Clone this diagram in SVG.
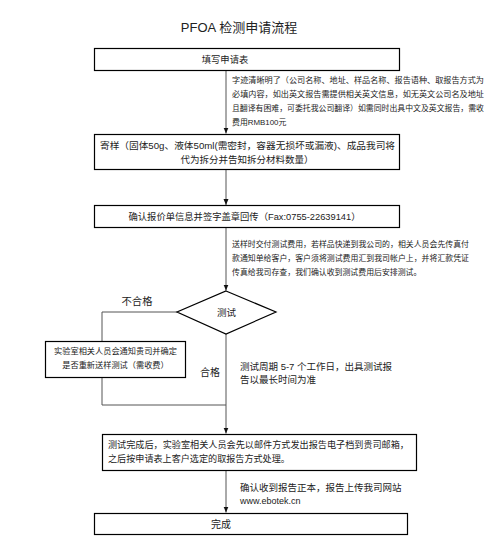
<svg xmlns="http://www.w3.org/2000/svg" width="498" height="553" viewBox="0 0 498 553">
<style>
text{font-family:"Liberation Sans","Noto Sans CJK SC",sans-serif;fill:#222;dominant-baseline:central}
.box{fill:#fff;stroke:#000;stroke-width:1.2}
.c{text-anchor:middle}
.ln{fill:none;stroke:#555;stroke-width:1}
.an{font-size:7.9px}
.md{font-size:9.3px}
</style>
<defs>
<marker id="ar" viewBox="0 0 6 6" refX="6" refY="3" markerWidth="6" markerHeight="6" orient="auto" markerUnits="userSpaceOnUse">
<path d="M0,0.5 L6,3 L0,5.5 Z" fill="#111"/>
</marker>
</defs>
<rect width="498" height="553" fill="#fff"/>
<text x="239" y="27" class="c" style="font-size:13px">PFOA 检测申请流程</text>

<g id="connectors">
<line class="ln" x1="226" y1="70.5" x2="226" y2="133.5" marker-end="url(#ar)"/>
<line class="ln" x1="226" y1="169.5" x2="226" y2="205" marker-end="url(#ar)"/>
<line class="ln" x1="226" y1="227.5" x2="226" y2="290.5" marker-end="url(#ar)"/>
<polyline class="ln" points="177,312 102,312 102,341"/>
<polyline class="ln" points="102,377 102,405 226,405"/>
<line class="ln" x1="226" y1="334" x2="226" y2="433.5" marker-end="url(#ar)"/>
<line class="ln" x1="226" y1="470.5" x2="226" y2="512.5" marker-end="url(#ar)"/>
<text x="137" y="301" class="c" style="font-size:10.3px">不合格</text>
<text x="210" y="372" class="c" style="font-size:10px">合格</text>
<g class="an">
<text x="232" y="80" textLength="252" lengthAdjust="spacingAndGlyphs">字迹清晰明了（公司名称、地址、样品名称、报告语种、取报告方式为</text>
<text x="232" y="94" textLength="252" lengthAdjust="spacingAndGlyphs">必填内容，如出英文报告需提供相关英文信息，如无英文公司名及地址</text>
<text x="232" y="108" textLength="252" lengthAdjust="spacingAndGlyphs">且翻译有困难，可委托我公司翻译）如需同时出具中文及英文报告，需收</text>
<text x="232" y="122">费用RMB100元</text>
<text x="232" y="244" textLength="237" lengthAdjust="spacingAndGlyphs">送样时交付测试费用，若样品快递到我公司的，相关人员会先传真付</text>
<text x="232" y="258" textLength="237" lengthAdjust="spacingAndGlyphs">款通知单给客户，客户须将测试费用汇到我司帐户上，并将汇款凭证</text>
<text x="232" y="272">传真给我司存查，我们确认收到测试费用后安排测试。</text>
</g>
<text x="240" y="366" style="font-size:9.5px">测试周期 5-7 个工作日，出具测试报</text>
<text x="240" y="379.5" style="font-size:9.5px">告以最长时间为准</text>
<text x="240" y="487" style="font-size:9.5px">确认收到报告正本，报告上传我司网站</text>
<text x="240" y="501" style="font-size:9px">www.ebotek.cn</text>
</g>

<g id="n1">
<rect class="box" x="94.5" y="48.5" width="305" height="22"/>
<text x="225" y="59.5" class="c md">填写申请表</text>
</g>
<g id="n2">
<rect class="box" x="94.5" y="134.5" width="305" height="35"/>
<text x="247.5" y="145" class="c" style="font-size:9.5px" textLength="295" lengthAdjust="spacingAndGlyphs">寄样（固体50g、液体50ml(需密封，容器无损坏或漏液)、成品我司将</text>
<text x="247" y="159" class="c" style="font-size:9.5px">代为拆分并告知拆分材料数量）</text>
</g>
<g id="n3">
<rect class="box" x="94.5" y="205.5" width="305" height="22"/>
<text x="244.5" y="216.5" class="c md">确认报价单信息并签字盖章回传（Fax:0755-22639141）</text>
</g>
<g id="n4">
<polygon class="box" points="226,291 276,312 226,334 177,312"/>
<text x="226.5" y="312" class="c" style="font-size:9.5px">测试</text>
</g>
<g id="n5">
<rect class="box" x="45.5" y="341.5" width="140" height="36"/>
<text x="115.5" y="351" class="c" style="font-size:8.2px">实验室相关人员会通知贵司并确定</text>
<text x="115.5" y="365" class="c" style="font-size:8.2px">是否重新送样测试（需收费）</text>
</g>
<g id="n6">
<rect class="box" x="102.5" y="434.5" width="314" height="36"/>
<text x="108" y="444.5" style="font-size:9.1px" textLength="301" lengthAdjust="spacingAndGlyphs">测试完成后，实验室相关人员会先以邮件方式发出报告电子档到贵司邮箱，</text>
<text x="108" y="459" style="font-size:9.1px">之后按申请表上客户选定的取报告方式处理。</text>
</g>
<g id="n7">
<rect class="box" x="94.5" y="513.5" width="313" height="21"/>
<text x="221" y="524" class="c" style="font-size:10px">完成</text>
</g>
</svg>
